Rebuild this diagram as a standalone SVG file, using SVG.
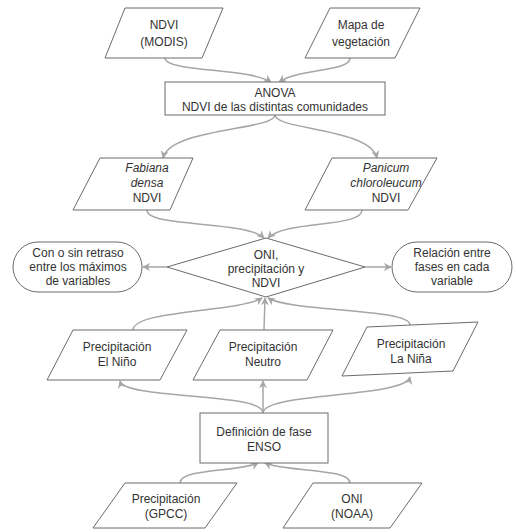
<svg xmlns="http://www.w3.org/2000/svg" width="516" height="532" viewBox="0 0 516 532">
<defs>
<style>
.s{fill:#fff;stroke:#6b6b6b;stroke-width:1}
.t{font-family:"Liberation Sans",Arial,sans-serif;font-size:12px;fill:#333;text-anchor:middle}
.i{font-style:italic}
.c{fill:none;stroke:#a6a6a6;stroke-width:1.5}
</style>
<marker id="a" viewBox="0 0 10 10" refX="9" refY="5" markerWidth="8" markerHeight="8" orient="auto" markerUnits="userSpaceOnUse">
<path d="M0,0 L10,5 L0,10 L3,5 Z" fill="#a6a6a6"/>
</marker>
</defs>
<rect width="516" height="532" fill="#fff"/>
<g id="connectors">
<path class="c" marker-end="url(#a)" d="M165,58 C165,72 250,68 271,82"/>
<path class="c" marker-end="url(#a)" d="M350,58 C350,72 300,68 279,82"/>
<path class="c" marker-end="url(#a)" d="M275,115 C275,130 170,128 163,158"/>
<path class="c" marker-end="url(#a)" d="M275,115 C275,130 370,128 377,158"/>
<path class="c" marker-end="url(#a)" d="M147,210 C147,228 245,220 264,238"/>
<path class="c" marker-end="url(#a)" d="M362,210 C362,228 285,220 268,238"/>
<path class="c" marker-end="url(#a)" d="M167,267 L143,267"/>
<path class="c" marker-end="url(#a)" d="M365,267 L391,267"/>
<path class="c" marker-end="url(#a)" d="M133,330 C133,310 240,312 262,298"/>
<path class="c" marker-end="url(#a)" d="M264,330 L265,298"/>
<path class="c" marker-end="url(#a)" d="M410,325 C410,308 290,312 268,298"/>
<path class="c" marker-end="url(#a)" d="M263,413 C263,392 125,400 120,381"/>
<path class="c" marker-end="url(#a)" d="M263,413 L263,381"/>
<path class="c" marker-end="url(#a)" d="M263,413 C263,392 405,398 410,377"/>
<path class="c" marker-end="url(#a)" d="M180,483 C180,468 240,472 258,463"/>
<path class="c" marker-end="url(#a)" d="M350,483 C350,468 285,472 265,463"/>
</g>
<g id="ndvi-modis"><polygon class="s" points="125,8 223,8 202,58 105,58"/><text class="t" x="164" y="29">NDVI</text><text class="t" x="164" y="46">(MODIS)</text></g>
<g id="mapa"><polygon class="s" points="330,8 420,8 395,58 305,58"/><text class="t" x="361" y="29">Mapa de</text><text class="t" x="361" y="46">vegetación</text></g>
<g id="anova"><rect class="s" x="165" y="82" width="220" height="33"/><text class="t" x="275" y="97">ANOVA</text><text class="t" x="275" y="111">NDVI de las distintas comunidades</text></g>
<g id="fabiana"><polygon class="s" points="100,158 193,158 170,210 73,210"/><text class="t i" x="147" y="172">Fabiana</text><text class="t i" x="147" y="187">densa</text><text class="t" x="147" y="202">NDVI</text></g>
<g id="panicum"><polygon class="s" points="332,158 437,158 408,210 305,210"/><text class="t i" x="386" y="172">Panicum</text><text class="t i" x="386" y="187">chloroleucum</text><text class="t" x="386" y="202">NDVI</text></g>
<g id="decision"><polygon class="s" points="266,238 365,267 266,297 167,267"/><text class="t" x="266" y="259">ONI,</text><text class="t" x="266" y="273">precipitación y</text><text class="t" x="266" y="287">NDVI</text></g>
<g id="retraso"><rect class="s" x="13" y="242" width="129" height="50" rx="25"/><text class="t" x="78" y="257">Con o sin retraso</text><text class="t" x="78" y="271">entre los máximos</text><text class="t" x="78" y="285">de variables</text></g>
<g id="relacion"><rect class="s" x="392" y="242" width="120" height="50" rx="25"/><text class="t" x="452" y="257">Relación entre</text><text class="t" x="452" y="271">fases en cada</text><text class="t" x="452" y="285">variable</text></g>
<g id="nino"><polygon class="s" points="73,330 187,330 160,380 47,380"/><text class="t" x="117" y="351">Precipitación</text><text class="t" x="117" y="366">El Niño</text></g>
<g id="neutro"><polygon class="s" points="220,330 333,330 307,380 193,380"/><text class="t" x="263" y="351">Precipitación</text><text class="t" x="263" y="366">Neutro</text></g>
<g id="nina"><polygon class="s" points="367,327 478,322 453,371 342,376"/><text class="t" x="411" y="348">Precipitación</text><text class="t" x="411" y="363">La Niña</text></g>
<g id="enso"><rect class="s" x="200" y="413" width="128" height="50"/><text class="t" x="264" y="436">Definición de fase</text><text class="t" x="264" y="451">ENSO</text></g>
<g id="gpcc"><polygon class="s" points="125,483 237,483 205,528 93,528"/><text class="t" x="166" y="503">Precipitación</text><text class="t" x="166" y="518">(GPCC)</text></g>
<g id="oni"><polygon class="s" points="313,483 422,483 390,528 283,528"/><text class="t" x="352" y="503">ONI</text><text class="t" x="352" y="518">(NOAA)</text></g>
</svg>
